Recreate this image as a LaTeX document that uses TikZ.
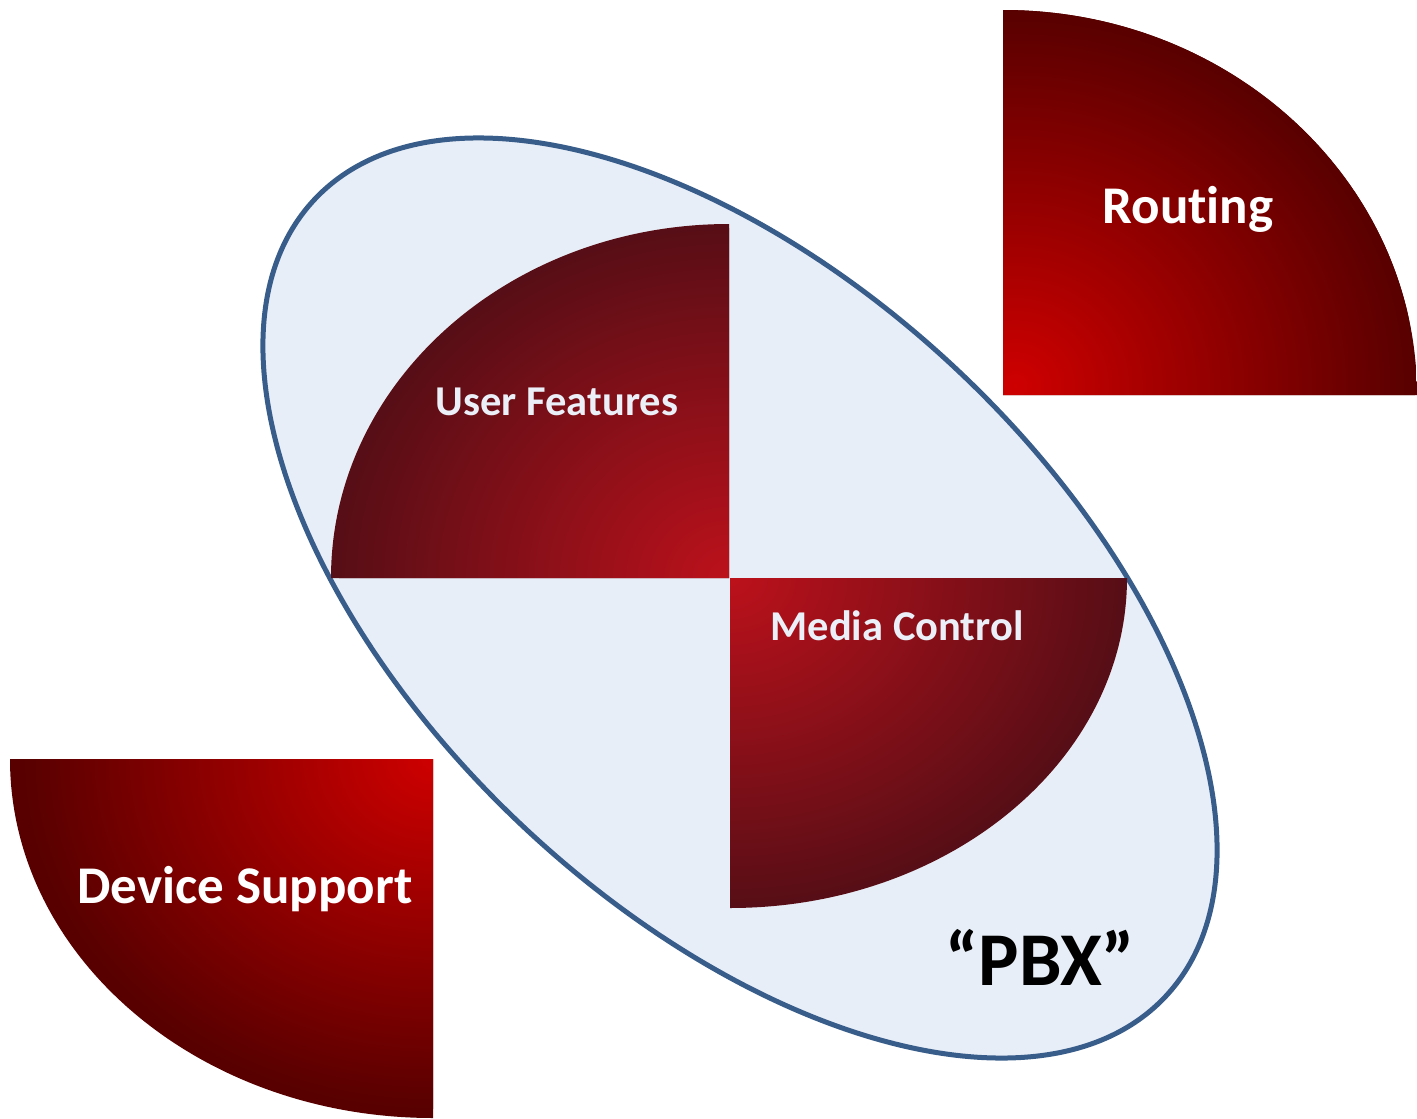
\documentclass[tikz,border=0pt]{standalone}
\usepackage{fontspec}
\setmainfont{Carlito}[Ligatures=NoCommon]
\definecolor{pbxfill}{RGB}{232,238,247}
\definecolor{pbxline}{RGB}{56,93,138}
\definecolor{hotred}{RGB}{206,0,0}
\definecolor{deepred}{RGB}{88,0,0}
\definecolor{coreinner}{RGB}{188,17,27}
\definecolor{coreouter}{RGB}{88,14,22}
\definecolor{paletext}{RGB}{235,240,248}
\begin{document}
\begin{tikzpicture}[x=1pt,y=-1pt,
    outerlabel/.style={text=white,anchor=base,font=\bfseries\fontsize{53}{60}\selectfont},
    innerlabel/.style={text=paletext,anchor=base,font=\bfseries\fontsize{42.5}{48}\selectfont}]
  \useasboundingbox (0,0) rectangle (1417,1119);
  % the PBX ellipse
  \filldraw[fill=pbxfill,draw=pbxline,line width=5pt,shift={(740,598)},rotate=-43.1] (0,0) ellipse[x radius=583,y radius=315];
  % Routing
  \begin{scope}
    \clip (1003,395) -- ++(414,0) arc[start angle=0,end angle=-90,x radius=414,y radius=385] -- cycle;
    \fill[deepred] (1003,395) circle[radius=500];
    \shade[inner color=hotred,outer color=deepred] (1015,385) ellipse[x radius=400,y radius=375];
  \end{scope}
  % User Features
  \begin{scope}
    \clip (729,578) -- ++(0,-354) arc[start angle=-90,end angle=-180,x radius=398,y radius=354] -- cycle;
    \fill[coreouter] (729,578) circle[radius=500];
    \shade[inner color=coreinner,outer color=coreouter] (729,578) ellipse[x radius=390,y radius=350];
  \end{scope}
  % Media Control
  \begin{scope}
    \clip (730,578) -- ++(397,0) arc[start angle=0,end angle=90,x radius=397,y radius=330] -- cycle;
    \fill[coreouter] (730,578) circle[radius=500];
    \shade[inner color=coreinner,outer color=coreouter] (730,578) ellipse[x radius=390,y radius=325];
  \end{scope}
  % Device Support
  \begin{scope}
    \clip (433,759) -- ++(-423,0) arc[start angle=180,end angle=90,x radius=423,y radius=359] -- cycle;
    \fill[deepred] (433,759) circle[radius=500];
    \shade[inner color=hotred,outer color=deepred] (433,759) ellipse[x radius=410,y radius=350];
  \end{scope}
  % labels
  \node[outerlabel] (routing) at (1188,223) {Routing};
  \node[innerlabel] (userfeat) at (557,415) {User Features};
  \node[innerlabel] (mediactl) at (897,640) {Media Control};
  \node[outerlabel] (devsupport) at (245,903) {Device Support};
  \node[anchor=base,font=\bfseries\fontsize{76}{86}\selectfont] (pbx) at (1040,985) {“PBX”};
\end{tikzpicture}
\end{document}
